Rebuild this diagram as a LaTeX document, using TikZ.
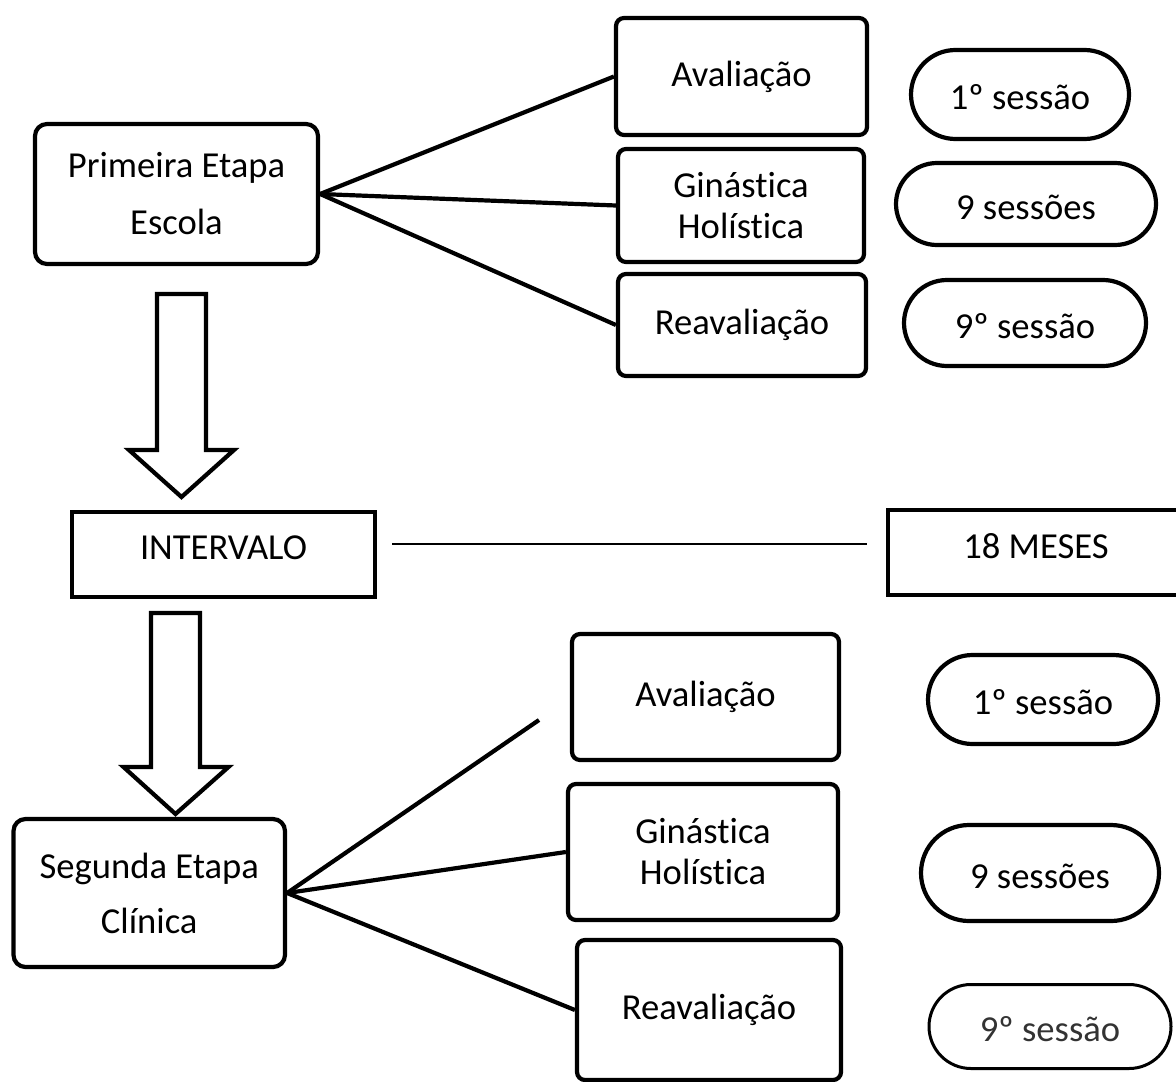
\documentclass[tikz,border=0pt]{standalone}
\usepackage{fontspec}
\setmainfont{Carlito}[Ligatures=NoCommon]
\usetikzlibrary{calc,shapes.misc}

\begin{document}
\begin{tikzpicture}[x=0.5pt,y=-0.5pt,
  box/.style={draw,line width=2.1pt,rounded corners=4pt,align=center,inner sep=0pt,font=\fontsize{18.3}{20.5}\selectfont},
  etapa/.style={box,rounded corners=6pt},
  flat/.style={box,rounded corners=0pt,text depth=7pt},
  pill/.style={draw,line width=2.1pt,rounded rectangle,inner sep=0pt,text height=15pt,text depth=0pt,font=\fontsize{18.3}{20.5}\selectfont},
  link/.style={line width=2.1pt},
  bigarrow/.style={draw,line width=2.1pt,line join=miter,fill=white}]
\fill[white] (0,0) rectangle (1176,1081);
\useasboundingbox (0,0) rectangle (1176,1081);

\node[etapa,minimum width=141.5pt,minimum height=70pt] (prim) at (176.5,194) {Primeira Etapa\\[8pt]Escola};
\node[box,minimum width=125.5pt,minimum height=58.5pt] (aval1) at (741.5,76.5) {Avaliação};
\node[box,minimum width=123pt,minimum height=56.5pt] (gin1) at (741,205.5) {Ginástica\\Holística};
\node[box,minimum width=124pt,minimum height=51pt] (reav1) at (742,325) {Reavaliação};
\node[pill,minimum width=109pt,minimum height=44.5pt] (ses1a) at (1020,94.5) {1º sessão};
\node[pill,minimum width=130pt,minimum height=41pt] (ses1b) at (1026,204) {9 sessões};
\node[pill,minimum width=121pt,minimum height=43pt] (ses1c) at (1025,323) {9º sessão};

\draw[link] (prim.east) -- (aval1.west);
\draw[link] (prim.east) -- (gin1.west);
\draw[link] (prim.east) -- (reav1.west);

\draw[bigarrow] (157,294) -- (206,294) -- (206,450) -- (234,450) -- (181.5,497) -- (129,450) -- (157,450) -- cycle;

\node[flat,minimum width=151.5pt,minimum height=42.5pt] (interv) at (223.5,554.5) {INTERVALO};
\node[flat,minimum width=148pt,minimum height=42.5pt] (meses) at (1036,552.5) {18 MESES};
\draw[line width=0.75pt] ($(interv.east)+(15,-10.5)$) -- ($(meses.west)+(-19,-8.5)$);

\draw[bigarrow] (151,613) -- (200,613) -- (200,767) -- (228.5,767) -- (175.5,814) -- (123.5,767) -- (151,767) -- cycle;

\node[etapa,minimum width=135.75pt,minimum height=74pt] (seg) at (149.25,893) {Segunda Etapa\\[7pt]Clínica};
\node[box,minimum width=133.5pt,minimum height=63pt] (aval2) at (705.5,697) {Avaliação};
\node[box,minimum width=135pt,minimum height=68pt] (gin2) at (703,852) {Ginástica\\Holística};
\node[box,minimum width=132pt,minimum height=70pt] (reav2) at (709,1010) {Reavaliação};
\node[pill,minimum width=115pt,minimum height=44.5pt] (ses2a) at (1043,699.5) {1º sessão};
\node[pill,minimum width=119pt,minimum height=48pt] (ses2b) at (1040,873) {9 sessões};
\node[pill,line width=1.5pt,text=black!80,minimum width=121pt,minimum height=42pt] (ses2c) at (1050,1026.5) {9º sessão};

\coordinate (cut) at (539,720);
\draw[link] (seg.east) -- (cut);
\draw[link] (seg.east) -- (gin2.west);
\draw[link] (seg.east) -- (reav2.west);
\end{tikzpicture}
\end{document}
